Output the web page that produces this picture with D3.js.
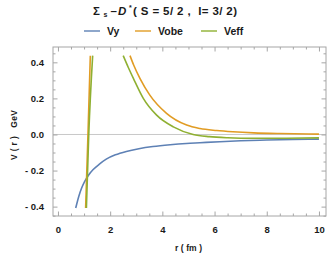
<!DOCTYPE html>
<html>
<head>
<meta charset="utf-8">
<script src="https://cdn.jsdelivr.net/npm/d3@7"></script>
<style>
  body { margin: 0; background: #fff; }
  text { font-family: "Liberation Sans", Arial, sans-serif; }
</style>
</head>
<body>
<script>
// chart size
var width = 335,
	height = 254;

var margin = { left: 53, right: 9, top: 47, bottom: 38 };

// series (r in fm, V in GeV), null breaks a line
var seriesNames = ['Vy', 'Vobe', 'Veff'];
var seriesColors = ['#5e81b5', '#e19c24', '#8fb032'];

var vyR = [0.68, 0.8, 0.9, 1.02, 1.15, 1.34, 1.6, 1.85, 2.2, 2.62, 3.1, 3.64, 4.3, 4.92, 5.44, 6.2, 7, 8, 9, 10];
var vyV = [-0.408, -0.342, -0.3, -0.262, -0.23, -0.196, -0.163, -0.137, -0.113, -0.094, -0.079, -0.067, -0.057, -0.05, -0.046, -0.04, -0.035, -0.031, -0.028, -0.026];

var vobeR = [1.06, 1.15, 1.24, null, 2.76, 2.9, 3.14, 3.52, 4.16, 4.93, 5.44, 6.08, 6.7, 7.5, 8.5, 10];
var vobeV = [-0.408, 0.0, 0.437, null, 0.437, 0.385, 0.311, 0.218, 0.117, 0.052, 0.033, 0.022, 0.015, 0.009, 0.005, 0.002];

var veffR = [1.09, 1.18, 1.33, null, 2.5, 2.7, 2.89, 3.27, 3.78, 4.42, 5.18, 5.8, 6.5, 7.5, 8.5, 10];
var veffV = [-0.408, 0.0, 0.437, null, 0.437, 0.37, 0.311, 0.2, 0.107, 0.042, 0.0, -0.012, -0.018, -0.021, -0.021, -0.019];

// tick values
var xTicks = [0, 2, 4, 6, 8, 10];
var yTicks = [-0.4, -0.2, 0.0, 0.2, 0.4];

var svg = d3.select('body')
	.append('svg')
	.attr('width', width)
	.attr('height', height);

var x = d3.scaleLinear()
	.domain([-0.19, 10.27])
	.range([margin.left, width - margin.right]);

var y = d3.scaleLinear()
	.domain([-0.452, 0.485])
	.range([height - margin.bottom, margin.top]);

var frameColor = '#a6a6a6';

// zero line
svg.append('line')
	.attr('x1', x.range()[0]).attr('x2', x.range()[1])
	.attr('y1', y(0)).attr('y2', y(0))
	.attr('stroke', '#c8c8c8')
	.attr('stroke-width', 1);

// minor ticks: every 0.5 on x, every 0.05 on y
var xMinor = d3.range(-0.0, 10.3, 0.5).filter(function(d) { return d % 2 !== 0; });
var yMinor = d3.range(-0.45, 0.49, 0.05).filter(function(d) {
	return Math.abs(Math.round(d * 100) % 20) !== 0;
});

function tickAxis(axis, scale, values, size) {
	return axis(scale).tickValues(values).tickSize(-size).tickFormat('');
}

var plotW = x.range()[1] - x.range()[0],
	plotH = y.range()[0] - y.range()[1];

var axes = svg.append('g').attr('class', 'axes');

function styleAxis(g) {
	g.select('.domain').remove();
	g.selectAll('.tick line').attr('stroke', frameColor);
	g.selectAll('.tick text')
		.attr('fill', '#1a1a1a')
		.attr('font-weight', 'bold')
		.attr('font-size', 9.5);
}

// bottom
axes.append('g')
	.attr('transform', 'translate(0,' + y.range()[0] + ')')
	.call(d3.axisBottom(x).tickValues(xTicks).tickSize(-4.5).tickPadding(10)
		.tickFormat(function(d) { return d; }))
	.call(styleAxis);
axes.append('g')
	.attr('transform', 'translate(0,' + y.range()[0] + ')')
	.call(tickAxis(d3.axisBottom, x, xMinor, 2.5))
	.call(styleAxis);
// top
axes.append('g')
	.attr('transform', 'translate(0,' + y.range()[1] + ')')
	.call(tickAxis(d3.axisTop, x, xTicks, 4.5))
	.call(styleAxis);
axes.append('g')
	.attr('transform', 'translate(0,' + y.range()[1] + ')')
	.call(tickAxis(d3.axisTop, x, xMinor, 2.5))
	.call(styleAxis);
// left
axes.append('g')
	.attr('transform', 'translate(' + x.range()[0] + ',0)')
	.call(d3.axisLeft(y).tickValues(yTicks).tickSize(-4.5).tickPadding(9)
		.tickFormat(function(d) {
			return d < 0 ? '- ' + Math.abs(d).toFixed(1) : d.toFixed(1);
		}))
	.call(styleAxis);
axes.append('g')
	.attr('transform', 'translate(' + x.range()[0] + ',0)')
	.call(tickAxis(d3.axisLeft, y, yMinor, 2.5))
	.call(styleAxis);
// right
axes.append('g')
	.attr('transform', 'translate(' + x.range()[1] + ',0)')
	.call(tickAxis(d3.axisRight, y, yTicks, 4.5))
	.call(styleAxis);
axes.append('g')
	.attr('transform', 'translate(' + x.range()[1] + ',0)')
	.call(tickAxis(d3.axisRight, y, yMinor, 2.5))
	.call(styleAxis);

// frame
svg.append('rect')
	.attr('x', x.range()[0])
	.attr('y', y.range()[1])
	.attr('width', plotW)
	.attr('height', plotH)
	.attr('fill', 'none')
	.attr('stroke', frameColor)
	.attr('stroke-width', 1);

// curves
var line = d3.line()
	.defined(function(d) { return d[0] !== null; })
	.x(function(d) { return x(d[0]); })
	.y(function(d) { return y(d[1]); })
	.curve(d3.curveMonotoneX);

var series = [
	d3.zip(vyR, vyV),
	d3.zip(vobeR, vobeV),
	d3.zip(veffR, veffV)
];

svg.append('g')
	.selectAll('path')
	.data(series)
	.enter().append('path')
	.attr('d', line)
	.attr('fill', 'none')
	.attr('stroke', function(d, i) { return seriesColors[i]; })
	.attr('stroke-width', 1.6);

// title, pieces placed one by one
var titleG = svg.append('g')
	.attr('font-weight', 'bold')
	.attr('fill', '#1a1a1a');
function titlePiece(tx, ty, size, txt, italic) {
	return titleG.append('text')
		.attr('x', tx).attr('y', ty)
		.attr('font-size', size)
		.attr('font-style', italic ? 'italic' : null)
		.text(txt);
}
titlePiece(93, 15, 11.5, 'Σ');
titlePiece(103.5, 17, 7, 's');
titlePiece(110.5, 15, 11.5, '–');
titlePiece(118, 15, 11.5, 'D', true);
titlePiece(129, 10, 7, '*');
titlePiece(133, 15, 11.5, '( S = 5/ 2 ,  I= 3/ 2)')
	.attr('xml:space', 'preserve')
	.attr('textLength', 104)
	.attr('lengthAdjust', 'spacing');

// legend
var legendX = [84, 135, 201];
var legend = svg.append('g')
	.selectAll('g')
	.data(seriesNames)
	.enter().append('g')
	.attr('transform', function(d, i) { return 'translate(' + legendX[i] + ',31)'; });

legend.append('line')
	.attr('x1', 0).attr('x2', 16)
	.attr('stroke', function(d, i) { return seriesColors[i]; })
	.attr('stroke-width', 1.4);

legend.append('text')
	.attr('x', 23)
	.attr('y', 4)
	.attr('font-size', 10.5)
	.attr('font-weight', 'bold')
	.attr('fill', '#1a1a1a')
	.text(function(d) { return d; });

// axis labels
svg.append('text')
	.attr('x', 175)
	.attr('y', 251)
	.attr('font-size', 8.5)
	.attr('font-weight', 'bold')
	.attr('fill', '#1a1a1a')
	.attr('xml:space', 'preserve')
	.attr('textLength', 27)
	.attr('lengthAdjust', 'spacing')
	.text('r ( fm )');

svg.append('text')
	.attr('transform', 'translate(17,160) rotate(-90)')
	.attr('font-size', 8.5)
	.attr('font-weight', 'bold')
	.attr('fill', '#1a1a1a')
	.attr('xml:space', 'preserve')
	.attr('textLength', 50)
	.attr('lengthAdjust', 'spacing')
	.text('V ( r )   GeV');
</script>
</body>
</html>
